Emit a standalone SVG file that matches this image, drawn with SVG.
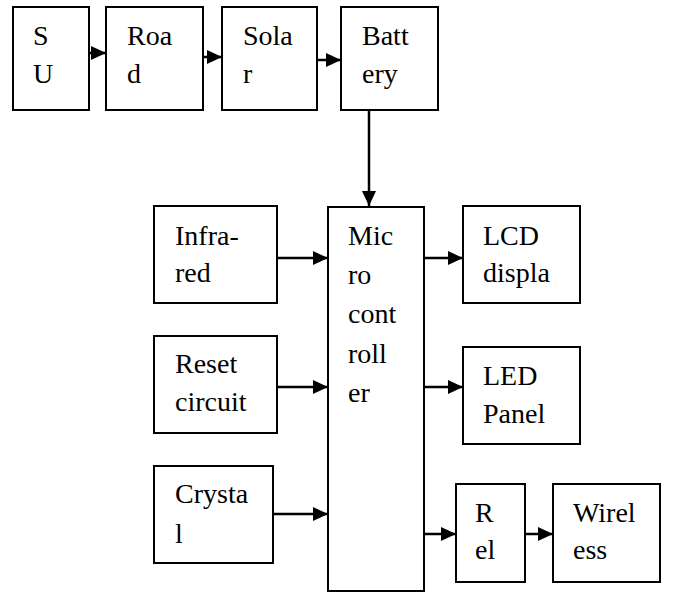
<svg xmlns="http://www.w3.org/2000/svg" width="676" height="592" viewBox="0 0 676 592">
<style>
.box{fill:#fff;stroke:#000;stroke-width:2}
.c{stroke:#000;stroke-width:2.5;fill:none}
</style>
<defs>
<marker id="ah" markerUnits="userSpaceOnUse" markerWidth="16" markerHeight="14" refX="15" refY="7" orient="auto">
<path d="M0,0 L15,7 L0,14 Z" fill="#000"/>
</marker>
</defs>
<rect width="676" height="592" fill="#fff"/>
<g font-family="Liberation Serif, DejaVu Serif, serif" font-size="28" fill="#000">
<g id="su"><rect class="box" x="13" y="7" width="76" height="103"/><text x="33" y="45">S</text><text x="33" y="83">U</text></g>
<g id="road"><rect class="box" x="106" y="7" width="97" height="103"/><text x="127" y="45">Roa</text><text x="127" y="83">d</text></g>
<g id="solar"><rect class="box" x="222" y="7" width="95" height="103"/><text x="243" y="45">Sola</text><text x="243" y="83">r</text></g>
<g id="battery"><rect class="box" x="341" y="7" width="97" height="103"/><text x="362" y="45">Batt</text><text x="362" y="83">ery</text></g>
<g id="micro"><rect class="box" x="328" y="207" width="96" height="384"/><text x="348" y="245">Mic</text><text x="348" y="284">ro</text><text x="348" y="323">cont</text><text x="348" y="363">roll</text><text x="348" y="402">er</text></g>
<g id="infrared"><rect class="box" x="154" y="206" width="123" height="97"/><text x="175" y="245">Infra-</text><text x="175" y="282">red</text></g>
<g id="reset"><rect class="box" x="154" y="336" width="123" height="97"/><text x="175" y="373">Reset</text><text x="175" y="411">circuit</text></g>
<g id="crystal"><rect class="box" x="154" y="466" width="119" height="97"/><text x="175" y="503">Crysta</text><text x="175" y="543">l</text></g>
<g id="lcd"><rect class="box" x="463" y="206" width="117" height="97"/><text x="483" y="245">LCD</text><text x="483" y="282">displa</text></g>
<g id="led"><rect class="box" x="463" y="347" width="117" height="97"/><text x="483" y="385">LED</text><text x="483" y="423">Panel</text></g>
<g id="relay"><rect class="box" x="456" y="484" width="69" height="98"/><text x="475" y="522">R</text><text x="475" y="559">el</text></g>
<g id="wireless"><rect class="box" x="553" y="484" width="107" height="98"/><text x="573" y="522">Wirel</text><text x="573" y="559">ess</text></g>
</g>
<g id="connectors">
<line class="c" x1="89" y1="53" x2="106" y2="53" marker-end="url(#ah)"/>
<line class="c" x1="203" y1="57" x2="222" y2="57" marker-end="url(#ah)"/>
<line class="c" x1="317" y1="60" x2="341" y2="60" marker-end="url(#ah)"/>
<line class="c" x1="369" y1="110" x2="369" y2="206" marker-end="url(#ah)"/>
<line class="c" x1="277" y1="258" x2="328" y2="258" marker-end="url(#ah)"/>
<line class="c" x1="277" y1="387" x2="328" y2="387" marker-end="url(#ah)"/>
<line class="c" x1="273" y1="514" x2="328" y2="514" marker-end="url(#ah)"/>
<line class="c" x1="424" y1="258" x2="463" y2="258" marker-end="url(#ah)"/>
<line class="c" x1="424" y1="387" x2="463" y2="387" marker-end="url(#ah)"/>
<line class="c" x1="424" y1="534" x2="456" y2="534" marker-end="url(#ah)"/>
<line class="c" x1="525" y1="534" x2="553" y2="534" marker-end="url(#ah)"/>
</g>
</svg>
